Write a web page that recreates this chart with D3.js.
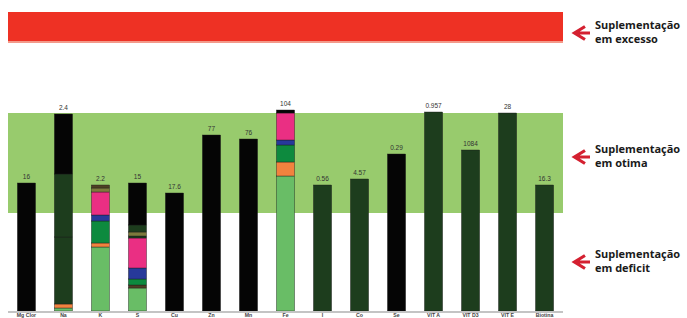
<!DOCTYPE html>
<html lang="pt">
<head>
<meta charset="UTF-8">
<title>Suplementação</title>
<script src="https://cdn.jsdelivr.net/npm/d3@7"></script>
<style>
  body { margin: 0; background: #fff; }
  svg { display: block; }
</style>
</head>
<body>
<svg id="chart" width="687" height="318"></svg>
<script>
const categories = ["Mg Clor", "Na", "K", "S", "Cu", "Zn", "Mn", "Fe", "I", "Co", "Se", "VIT A", "VIT D3", "VIT E", "Biotina"];
const valueLabels = ["16", "2.4", "2.2", "15", "17.6", "77", "76", "104", "0.56", "4.57", "0.29", "0.957", "1084", "28", "16.3"];

// stacked pieces, bottom to top: [colour key, value]
const segments = [
  [["black", 128]],
  [["light", 3], ["orange", 4], ["dark", 67], ["dark", 63], ["black", 60]],
  [["light", 64], ["orange", 4], ["mid", 22], ["blue", 6], ["pink", 23], ["olive", 4], ["brown", 3]],
  [["light", 23], ["brown", 3], ["mid", 6], ["blue", 11], ["pink", 30], ["dark", 2], ["olive", 4], ["dark", 7], ["black", 42]],
  [["black", 118]],
  [["black", 176]],
  [["black", 172]],
  [["light", 135], ["orange", 14], ["mid", 17], ["blue", 5], ["pink", 27], ["black", 3]],
  [["dark", 126]],
  [["dark", 132]],
  [["black", 157]],
  [["dark", 199]],
  [["dark", 161]],
  [["dark", 198]],
  [["dark", 126]]
];

const zones = [
  { name: "excesso", from: 269, to: 299, label: "em excesso" },
  { name: "otima", from: 98, to: 198, label: "em otima" },
  { name: "deficit", from: 0, to: 98, label: "em deficit" }
];

const colors = {
  black: "#050505", dark: "#1d3d1d", light: "#69bd66", orange: "#f2823e",
  mid: "#0d8a3e", blue: "#27399a", pink: "#ea2f83", olive: "#7c7a3c", brown: "#4e3f24"
};

const svg = d3.select("#chart");
const left = 8, right = 563;

const x = d3.scaleBand().domain(categories).range([left + 0.5, right - 0.5]).paddingInner(0.51).paddingOuter(0.24);
const y = d3.scaleLinear().domain([0, 300]).range([311, 11]);

// red excess band
svg.append("rect")
  .attr("x", left).attr("width", right - left)
  .attr("y", y(zones[0].to)).attr("height", y(zones[0].from) - y(zones[0].to))
  .attr("fill", "#ee3124");
svg.append("rect")
  .attr("x", left).attr("width", right - left)
  .attr("y", y(zones[0].from) - 1).attr("height", 2)
  .attr("fill", "#f39a8a");

// green optimum band
svg.append("rect")
  .attr("x", left).attr("width", right - left)
  .attr("y", y(zones[1].to)).attr("height", y(zones[1].from) - y(zones[1].to))
  .attr("fill", "#98cb6d");

// bars
const bars = svg.append("g");
segments.forEach((segs, i) => {
  let acc = 0;
  const g = bars.append("g");
  segs.forEach(([key, v]) => {
    g.append("rect")
      .attr("x", x(categories[i]))
      .attr("width", x.bandwidth())
      .attr("y", y(acc + v))
      .attr("height", y(acc) - y(acc + v))
      .attr("fill", colors[key])
      .attr("stroke", "#1a1a1a")
      .attr("stroke-width", 0.4);
    acc += v;
  });
  g.append("text")
    .attr("x", x(categories[i]) + x.bandwidth() / 2)
    .attr("y", y(acc) - 4)
    .attr("text-anchor", "middle")
    .attr("font-family", "Liberation Sans, sans-serif")
    .attr("font-size", 6.5)
    .attr("fill", "#333")
    .text(valueLabels[i]);
});

// baseline
svg.append("rect")
  .attr("x", left).attr("width", right - left)
  .attr("y", y(0)).attr("height", 2)
  .attr("fill", "#c4c4c4");

// category labels
svg.append("g").selectAll("text")
  .data(categories)
  .join("text")
  .attr("x", d => x(d) + x.bandwidth() / 2)
  .attr("y", 316.5)
  .attr("text-anchor", "middle")
  .attr("font-family", "Liberation Sans, sans-serif")
  .attr("font-weight", "bold")
  .attr("font-size", 5.2)
  .attr("fill", "#444")
  .text(d => d);

// annotations on the right
const notes = [
  { cy: 33, zone: zones[0] },
  { cy: 157, zone: zones[1] },
  { cy: 262, zone: zones[2] }
];
const ann = svg.append("g").selectAll("g").data(notes).join("g");
ann.append("path")
  .attr("d", d => `M585,${d.cy - 6.5} L574.5,${d.cy} L585,${d.cy + 6.5} M575,${d.cy} L590,${d.cy}`)
  .attr("fill", "none")
  .attr("stroke", "#d42030")
  .attr("stroke-width", 3.2);
ann.append("text")
  .attr("x", 595)
  .attr("y", d => d.cy - 4)
  .attr("font-family", "Open Sans, sans-serif")
  .attr("font-weight", "bold")
  .attr("font-size", 11)
  .attr("fill", "#1a1a1a")
  .text("Suplementação");
ann.append("text")
  .attr("x", 595)
  .attr("y", d => d.cy + 9.5)
  .attr("font-family", "Open Sans, sans-serif")
  .attr("font-weight", "bold")
  .attr("font-size", 11)
  .attr("fill", "#1a1a1a")
  .text(d => d.zone.label);
</script>
</body>
</html>
